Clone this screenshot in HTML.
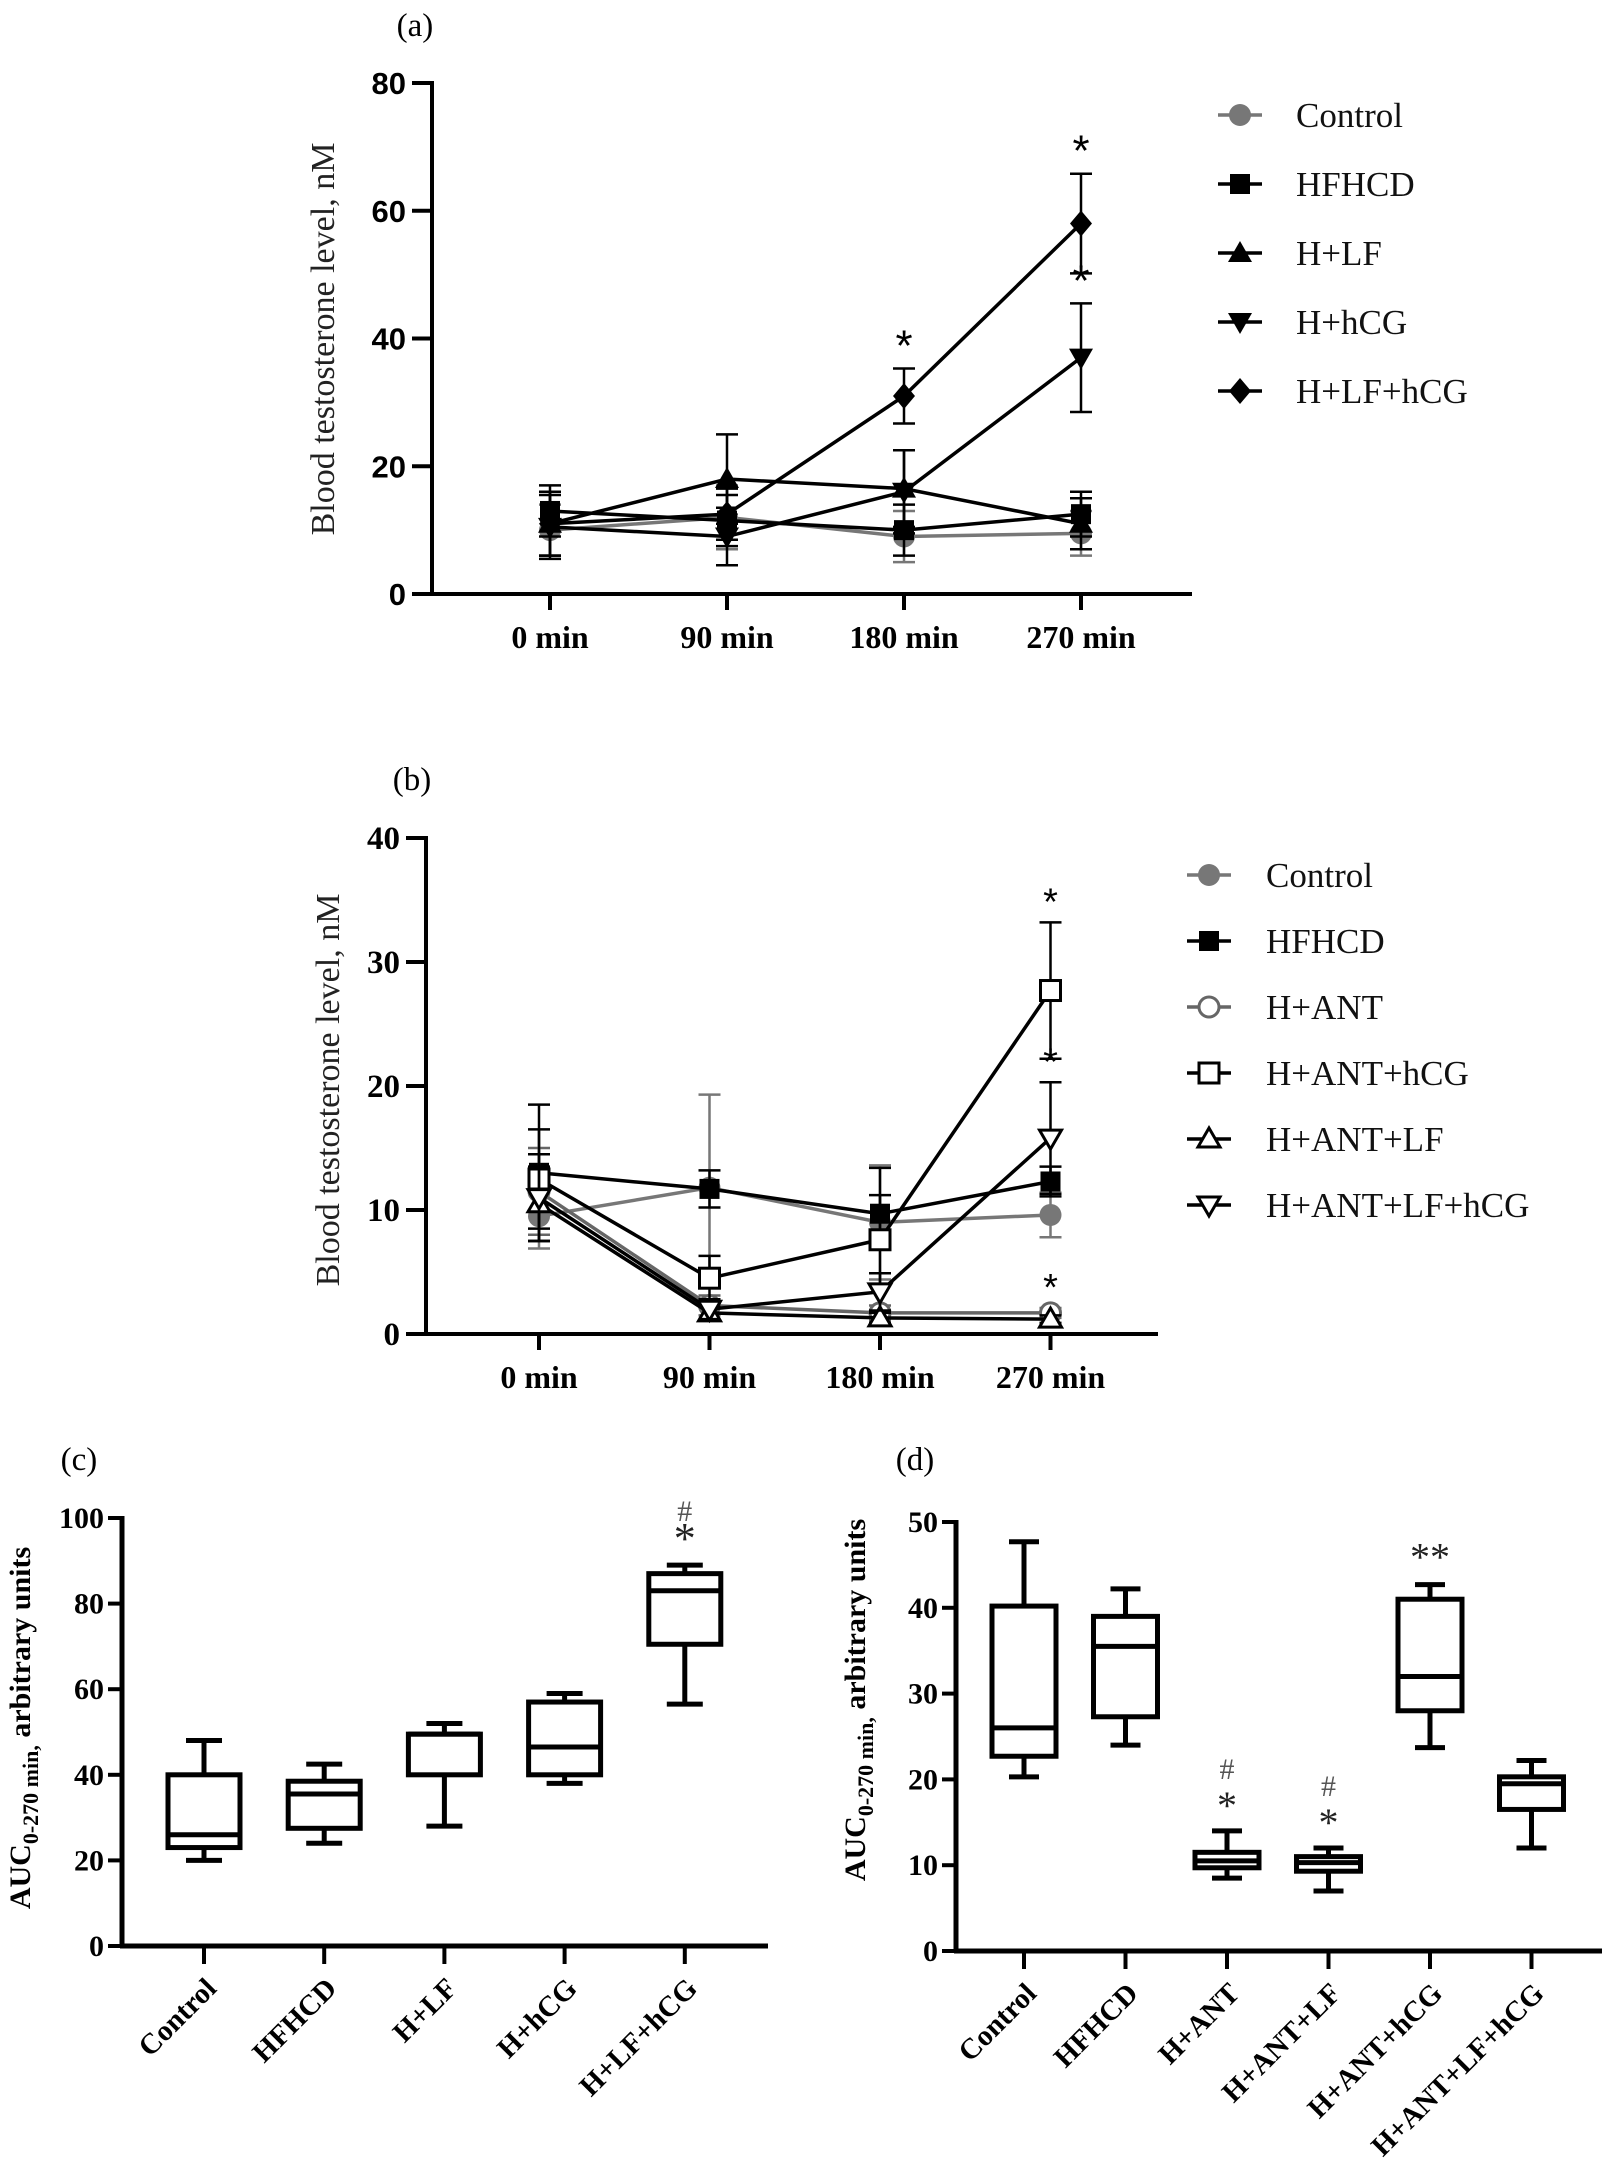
<!DOCTYPE html>
<html><head><meta charset="utf-8">
<style>
html,body{margin:0;padding:0;background:#fff;}
svg{display:block;}
</style></head>
<body>
<svg id="fig" width="1602" height="2167" viewBox="0 0 1602 2167" xmlns="http://www.w3.org/2000/svg"></svg>
<script>
// ---------- Panel (a) data ----------
const timeLabels = ["0 min","90 min","180 min","270 min"];
const aSeriesNames = ["Control","HFHCD","H+LF","H+hCG","H+LF+hCG"];
const aControl = [10, 12, 9, 9.5];
const aHFHCD = [13, 11.5, 10, 12.5];
const aHLF = [11, 18, 16.5, 11];
const aHhCG = [10.5, 9, 16, 37];
const aHLFhCG = [11, 12.5, 31, 58];
const aErrControl = [4, 5, 4, 3.5];
const aErrHFHCD = [4, 4, 4, 3.5];
const aErrHLF = [5, 7, 6, 4];
const aErrHhCG = [5, 4.5, 6.5, 8.5];
const aErrHLFhCG = [5, 4, 4.3, 7.8];
const aYTicks = [0,20,40,60,80];
const aStars = [[2,"H+LF+hCG"],[3,"H+LF+hCG"],[3,"H+hCG"]];

// ---------- Panel (b) data ----------
const bSeriesNames = ["Control","HFHCD","H+ANT","H+ANT+hCG","H+ANT+LF","H+ANT+LF+hCG"];
const bControl = [9.5, 11.8, 9, 9.6];
const bHFHCD = [13, 11.7, 9.7, 12.3];
const bHANT = [11.5, 2.3, 1.7, 1.7];
const bHANThCG = [12.5, 4.5, 7.6, 27.7];
const bHANTLF = [10.5, 1.7, 1.3, 1.2];
const bHANTLFhCG = [11, 2, 3.4, 15.8];
const bErrControl = [2.6, 7.5, 4.6, 1.8];
const bErrHFHCD = [5.5, 1.5, 1.5, 1.2];
const bErrHANT = [3.5, 0.8, 0.6, 0.4];
const bErrHANThCG = [4, 1.8, 5.8, 5.5];
const bErrHANTLF = [3, 0.5, 0.4, 0.3];
const bErrHANTLFhCG = [3.5, 0.8, 1.5, 4.5];
const bYTicks = [0,10,20,30,40];
const bStars = [[3,"H+ANT+hCG"],[3,"H+ANT+LF+hCG"],[3,"H+ANT"]];

// ---------- Panel (c) data ----------
const cGroups = ["Control","HFHCD","H+LF","H+hCG","H+LF+hCG"];
const cMin = [20, 24, 28, 38, 56.5];
const cQ1 = [23, 27.5, 40, 40, 70.5];
const cMed = [26, 35.5, 49.5, 46.5, 83];
const cQ3 = [40, 38.5, 49.5, 57, 87];
const cMax = [48, 42.5, 52, 59, 89];
const cYTicks = [0,20,40,60,80,100];

// ---------- Panel (d) data ----------
const dGroups = ["Control","HFHCD","H+ANT","H+ANT+LF","H+ANT+hCG","H+ANT+LF+hCG"];
const dMin = [20.3, 24, 8.5, 7, 23.7, 12];
const dQ1 = [22.7, 27.3, 9.7, 9.3, 28, 16.5];
const dMed = [26, 35.5, 10.5, 10.3, 32, 19.5];
const dQ3 = [40.2, 39, 11.5, 11, 41, 20.3];
const dMax = [47.7, 42.2, 14, 12, 42.7, 22.2];
const dYTicks = [0,10,20,30,40,50];

const NS = "http://www.w3.org/2000/svg";
const svg = document.getElementById("fig");
function el(tag, attrs, parent, text){
  const e = document.createElementNS(NS, tag);
  for (const k in attrs) e.setAttribute(k, attrs[k]);
  if (text !== undefined) e.textContent = text;
  (parent||svg).appendChild(e);
  return e;
}
const SERIF = "'Liberation Serif', serif";
const SANS = "'Liberation Sans', sans-serif";

function marker(g, type, x, y, color, s){
  let m;
  if (type==="circle") m = el("circle",{cx:x,cy:y,r:s*0.55,fill:color},g);
  else if (type==="ocircle") m = el("circle",{cx:x,cy:y,r:s*0.5,fill:"#fff",stroke:color,"stroke-width":3},g);
  else if (type==="square") m = el("rect",{x:x-s/2,y:y-s/2,width:s,height:s,fill:color},g);
  else if (type==="osquare") m = el("rect",{x:x-s/2,y:y-s/2,width:s,height:s,fill:"#fff",stroke:color,"stroke-width":3},g);
  else if (type==="tri") m = el("polygon",{points:`${x},${y-s*0.6} ${x-s*0.6},${y+s*0.45} ${x+s*0.6},${y+s*0.45}`,fill:color},g);
  else if (type==="otri") m = el("polygon",{points:`${x},${y-s*0.55} ${x-s*0.55},${y+s*0.4} ${x+s*0.55},${y+s*0.4}`,fill:"#fff",stroke:color,"stroke-width":3},g);
  else if (type==="dtri") m = el("polygon",{points:`${x},${y+s*0.6} ${x-s*0.6},${y-s*0.45} ${x+s*0.6},${y-s*0.45}`,fill:color},g);
  else if (type==="odtri") m = el("polygon",{points:`${x},${y+s*0.55} ${x-s*0.55},${y-s*0.4} ${x+s*0.55},${y-s*0.4}`,fill:"#fff",stroke:color,"stroke-width":3},g);
  else if (type==="diamond") m = el("polygon",{points:`${x},${y-s*0.65} ${x+s*0.55},${y} ${x},${y+s*0.65} ${x-s*0.55},${y}`,fill:color},g);
  
  
  return m;
}

function linePanel(cfg){
  const g = el("g",{});
  
  
  const yS = v => cfg.y0 - (v - cfg.ymin) / (cfg.ymax - cfg.ymin) * (cfg.y0 - cfg.y1);
  const xS = i => cfg.xs[0] + i * (cfg.xs[1]-cfg.xs[0]);
  const ya = el("line",{x1:cfg.ax,y1:cfg.y1-2,x2:cfg.ax,y2:cfg.y0+2,stroke:"#000","stroke-width":4},g);
   
  const xa = el("line",{x1:cfg.ax-2,y1:cfg.y0,x2:cfg.axEnd,y2:cfg.y0,stroke:"#000","stroke-width":4},g);
   
  cfg.yTicks.forEach(t=>{
    el("line",{x1:cfg.ax-20,y1:yS(t),x2:cfg.ax,y2:yS(t),stroke:"#000","stroke-width":4},g);
    const tl = el("text",{x:cfg.ax-26,y:yS(t)+11,"text-anchor":"end","font-family":cfg.yFont,"font-weight":"bold","font-size":cfg.yFs},g,String(t));
     
  });
  timeLabels.forEach((lab,i)=>{
    el("line",{x1:xS(i),y1:cfg.y0,x2:xS(i),y2:cfg.y0+16,stroke:"#000","stroke-width":4},g);
    const tl = el("text",{x:xS(i),y:cfg.y0+54,"text-anchor":"middle","font-family":SERIF,"font-weight":"bold","font-size":32},g,lab);
     
  });
  const yl = el("text",{x:0,y:0,transform:`translate(${cfg.ylx},${cfg.yly}) rotate(-90)`,"text-anchor":"middle","font-family":SERIF,"font-size":34,fill:"#222"},g,"Blood testosterone level, nM");
   
  const pl = el("text",{x:cfg.plx,y:cfg.ply,"text-anchor":"middle","font-family":SERIF,"font-size":33},g,cfg.panel);
   
  cfg.series.forEach(s=>{
    const sg = el("g",{},g);
    
    
    s.vals.forEach((v,i)=>{
      const x=xS(i), e=s.err[i];
      el("line",{x1:x,y1:yS(v+e),x2:x,y2:yS(v-e),stroke:s.color,"stroke-width":2.5},sg);
      el("line",{x1:x-11,y1:yS(v+e),x2:x+11,y2:yS(v+e),stroke:s.color,"stroke-width":2.5},sg);
      el("line",{x1:x-11,y1:yS(v-e),x2:x+11,y2:yS(v-e),stroke:s.color,"stroke-width":2.5},sg);
    });
    const pts = s.vals.map((v,i)=>`${xS(i)},${yS(v)}`).join(" ");
    const pl2 = el("polyline",{points:pts,fill:"none",stroke:s.color,"stroke-width":3.5},sg);
     
    s.vals.forEach((v,i)=>marker(sg,s.m,xS(i),yS(v),s.color,cfg.ms));
  });
  cfg.stars.forEach(([i,name])=>{
    const s = cfg.series.find(q=>q.name===name);
    const st = el("text",{x:xS(i),y:yS(s.vals[i]+s.err[i])-8,"text-anchor":"middle","font-family":SANS,"font-size":cfg.starFs},g,"*");
     
  });
  const lg = el("g",{},g);
   
  cfg.series.forEach((s,k)=>{
    const y = cfg.legY0 + k*cfg.legDy;
    const eg = el("g",{},lg);
     
    el("line",{x1:cfg.legX-22,y1:y,x2:cfg.legX+22,y2:y,stroke:s.color,"stroke-width":3.5},eg);
    marker(eg,s.m,cfg.legX,y,s.color,cfg.ms);
    el("text",{x:cfg.legTx,y:y+12,"font-family":SERIF,"font-size":35,fill:"#111"},eg,s.name);
  });
}

linePanel({name:"panel-a-line-chart",panel:"(a)",plx:415,ply:36,ax:432,axEnd:1192,y0:594,y1:83,ymin:0,ymax:80,
  xs:[550,727],yTicks:aYTicks,yFont:SANS,yFs:31,ylx:334,yly:339,ms:20,starFs:44,
  legX:1240,legTx:1296,legY0:115,legDy:69,stars:aStars,
  series:[
    {name:"Control",vals:aControl,err:aErrControl,color:"#777",m:"circle"},
    {name:"HFHCD",vals:aHFHCD,err:aErrHFHCD,color:"#000",m:"square"},
    {name:"H+LF",vals:aHLF,err:aErrHLF,color:"#000",m:"tri"},
    {name:"H+hCG",vals:aHhCG,err:aErrHhCG,color:"#000",m:"dtri"},
    {name:"H+LF+hCG",vals:aHLFhCG,err:aErrHLFhCG,color:"#000",m:"diamond"}
  ]});

linePanel({name:"panel-b-line-chart",panel:"(b)",plx:412,ply:790,ax:426,axEnd:1158,y0:1334,y1:838,ymin:0,ymax:40,
  xs:[539,709.5],yTicks:bYTicks,yFont:SERIF,yFs:33,ylx:339,yly:1090,ms:20,starFs:38,
  legX:1209,legTx:1266,legY0:875,legDy:66,stars:bStars,
  series:[
    {name:"Control",vals:bControl,err:bErrControl,color:"#777",m:"circle"},
    {name:"HFHCD",vals:bHFHCD,err:bErrHFHCD,color:"#000",m:"square"},
    {name:"H+ANT",vals:bHANT,err:bErrHANT,color:"#666",m:"ocircle"},
    {name:"H+ANT+hCG",vals:bHANThCG,err:bErrHANThCG,color:"#000",m:"osquare"},
    {name:"H+ANT+LF",vals:bHANTLF,err:bErrHANTLF,color:"#000",m:"otri"},
    {name:"H+ANT+LF+hCG",vals:bHANTLFhCG,err:bErrHANTLFhCG,color:"#000",m:"odtri"}
  ]});

function boxPanel(cfg){
  const g = el("g",{});
  
  
  const yS = v => cfg.y0 - v / cfg.ymax * (cfg.y0 - cfg.y1);
  const xS = i => cfg.xs[0] + i*(cfg.xs[1]-cfg.xs[0]);
  const ya = el("line",{x1:cfg.ax,y1:cfg.y1-2,x2:cfg.ax,y2:cfg.y0+2,stroke:"#000","stroke-width":5},g);
   
  const xa = el("line",{x1:cfg.ax-2,y1:cfg.y0,x2:cfg.axEnd,y2:cfg.y0,stroke:"#000","stroke-width":5},g);
   
  cfg.yTicks.forEach(t=>{
    el("line",{x1:cfg.ax-14,y1:yS(t),x2:cfg.ax,y2:yS(t),stroke:"#000","stroke-width":4},g);
    const tl = el("text",{x:cfg.ax-18,y:yS(t)+10,"text-anchor":"end","font-family":SERIF,"font-weight":"bold","font-size":30},g,String(t));
     
  });
  cfg.groups.forEach((lab,i)=>{
    const x=xS(i);
    el("line",{x1:x,y1:cfg.y0,x2:x,y2:cfg.y0+18,stroke:"#000","stroke-width":4},g);
    const tl = el("text",{x:0,y:0,transform:`translate(${x+14},${cfg.y0+44}) rotate(-45)`,"text-anchor":"end","font-family":SERIF,"font-weight":"bold","font-size":29},g,lab);
     
    const bg = el("g",{},g);
    
    
    const w=cfg.bw, cw=cfg.cw;
    el("line",{x1:x,y1:yS(cfg.max[i]),x2:x,y2:yS(cfg.q3[i]),stroke:"#000","stroke-width":5},bg);
    el("line",{x1:x,y1:yS(cfg.q1[i]),x2:x,y2:yS(cfg.min[i]),stroke:"#000","stroke-width":5},bg);
    el("line",{x1:x-cw/2,y1:yS(cfg.max[i]),x2:x+cw/2,y2:yS(cfg.max[i]),stroke:"#000","stroke-width":5},bg);
    el("line",{x1:x-cw/2,y1:yS(cfg.min[i]),x2:x+cw/2,y2:yS(cfg.min[i]),stroke:"#000","stroke-width":5},bg);
    el("rect",{x:x-w/2,y:yS(cfg.q3[i]),width:w,height:yS(cfg.q1[i])-yS(cfg.q3[i]),fill:"#fff",stroke:"#000","stroke-width":5},bg);
    el("line",{x1:x-w/2,y1:yS(cfg.med[i]),x2:x+w/2,y2:yS(cfg.med[i]),stroke:"#000","stroke-width":5},bg);
  });
  cfg.marks.forEach(([i,txt,off,fs,col])=>{
    const t = el("text",{x:xS(i),y:yS(cfg.max[i])-off,"text-anchor":"middle","font-family":SERIF,"font-size":fs,fill:col},g,txt);
     
  });
  const yl = el("text",{x:0,y:0,transform:`translate(${cfg.ylx},${cfg.yly}) rotate(-90)`,"text-anchor":"middle","font-family":SERIF,"font-weight":"bold","font-size":30},g);
   
  el("tspan",{},yl,"AUC");
  el("tspan",{dy:8,"font-size":22},yl,"0-270 min,");
  el("tspan",{dy:-8},yl," arbitrary units");
  const pl = el("text",{x:cfg.plx,y:cfg.ply,"text-anchor":"middle","font-family":SERIF,"font-size":33},g,cfg.panel);
   
}

boxPanel({name:"panel-c-box-plot",panel:"(c)",plx:79,ply:1470,ax:122,axEnd:768,y0:1946,y1:1518,ymax:100,
  xs:[204,324.2],bw:72,cw:36,groups:cGroups,min:cMin,q1:cQ1,med:cMed,q3:cQ3,max:cMax,yTicks:cYTicks,
  ylx:30,yly:1728,
  marks:[[4,"*",12,44,"#222"],[4,"#",44,30,"#555"]]});

boxPanel({name:"panel-d-box-plot",panel:"(d)",plx:915,ply:1470,ax:956,axEnd:1602,y0:1951,y1:1522,ymax:50,
  xs:[1024,1125.5],bw:64,cw:30,groups:dGroups,min:dMin,q1:dQ1,med:dMed,q3:dQ3,max:dMax,yTicks:dYTicks,
  ylx:865,yly:1700,
  marks:[[2,"*",12,40,"#222"],[3,"*",12,40,"#222"],[2,"#",52,30,"#555"],[3,"#",52,30,"#555"],[4,"**",14,40,"#222"]]});
</script>
</body></html>
